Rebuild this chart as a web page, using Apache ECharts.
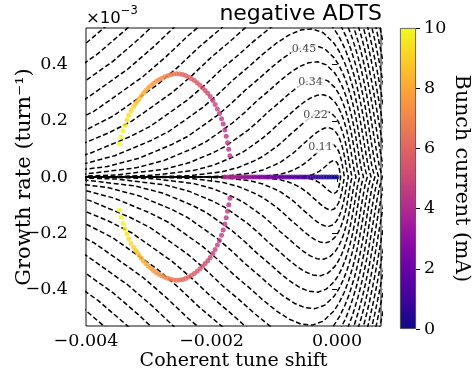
<!DOCTYPE html>
<html><head><meta charset="utf-8">
<script src="https://cdn.jsdelivr.net/npm/echarts@6/dist/echarts.min.js"></script>
<style>html,body{margin:0;padding:0;background:#fff}#c{width:473px;height:376px}</style>
</head><body><div id="c"></div>
<script>
// ---------- data (tune shift and growth rate in units of 1e-3) ----------
// contour levels (every second one is labelled in the figure)
const contourLevels = [0.05625,0.1125,0.16875,0.225,0.28125,0.3375,0.39375,0.45,0.50625,0.5625,0.61875,0.675,0.73125,0.7875,0.84375,0.9,0.95625,1.0125,1.06875];
const contourLabelTexts = ['0.45','0.34','0.22','0.11'];
const contourLabelAnchors = [[-0.527,0.4555],[-0.422,0.3365],[-0.342,0.219],[-0.263,0.1066]];
// shape of the unit stability-diagram contour (upper half), level = 1
const sdShapeX = [1.070,1.0014,0.9447,0.8790,0.7823,0.7021,0.6286,0.5588,0.4908,0.3580,0.2269,0.0633,-0.1005,-0.4347,-0.7800,-1.1396,-1.5167,-1.9142,-2.3337,-2.7756,-3.2528,-3.7311,-4.2329,-4.7722,-5.2933,-5.8711,-7.0010,-8.1363,-10.391,-12.658,-14.830,-19.142,-85.6];
const sdShapeY = [0,0.0541,0.1186,0.2037,0.3315,0.4292,0.5092,0.5770,0.6356,0.7327,0.8097,0.8848,0.9416,1.0131,1.0407,1.0330,0.9977,0.9394,0.8639,0.7757,0.6858,0.5843,0.4877,0.4021,0.3203,0.2544,0.1494,0.0825,0.0219,0.0051,0.0011,0.00004,0];

// coherent modes on the real axis (below threshold)
const axisCurrent = [0,0.1,0.2,0.3,0.4,0.5,0.6,0.7,0.8,0.9,1.0,1.1,1.2,1.3,1.4,1.5,1.6,1.7,1.8,1.9,2.0,2.1,2.2,2.3,2.4,2.5,2.6,2.7,2.8,2.9,3.0,3.1,3.2,3.3,3.4,3.5,3.6,3.7,3.8,3.9,4.0,4.1,4.2];
const axisTune = [0,-0.043,-0.085,-0.128,-0.170,-0.213,-0.255,-0.298,-0.340,-0.383,-0.426,-0.468,-0.511,-0.553,-0.596,-0.638,-0.681,-0.723,-0.766,-0.808,-0.851,-0.894,-0.936,-0.979,-1.021,-1.064,-1.106,-1.149,-1.191,-1.234,-1.277,-1.319,-1.362,-1.404,-1.447,-1.489,-1.532,-1.574,-1.617,-1.659,-1.702,-1.745,-1.787];
const axisGrowth = [0,0,0,0,0,0,0,0,0,0,0,0,0,0,0,0,0,0,0,0,0,0,0,0,0,0,0,0,0,0,0,0,0,0,0,0,0,0,0,0,0,0,0];

// coupled modes above threshold
const arcCurrent = [4.25,4.30,4.35,4.40,4.45,4.50,4.55,4.60,4.65,4.72,4.80,4.95,5.10,5.25,5.40,5.50,5.60,5.70,5.80,5.90,6.00,6.10,6.25,6.40,6.55,6.70,6.85,7.00,7.15,7.30,7.45,7.60,7.75,7.90,8.05,8.20,8.35,8.50,8.65,8.80,9.00,9.20,9.35,9.50,9.65,9.80,9.90,10.00];
const arcTune = [-1.707,-1.726,-1.745,-1.766,-1.788,-1.814,-1.841,-1.874,-1.906,-1.943,-1.978,-2.021,-2.060,-2.102,-2.143,-2.185,-2.229,-2.274,-2.320,-2.366,-2.414,-2.461,-2.509,-2.557,-2.605,-2.652,-2.700,-2.748,-2.794,-2.840,-2.885,-2.928,-2.969,-3.009,-3.047,-3.084,-3.119,-3.150,-3.179,-3.209,-3.241,-3.282,-3.319,-3.349,-3.379,-3.408,-3.442,-3.473];
const arcGrowthUpper = [0.0759,0.0989,0.1218,0.1448,0.1670,0.1882,0.2076,0.2260,0.2419,0.2578,0.2719,0.2860,0.2977,0.3079,0.3174,0.3263,0.3351,0.3429,0.3499,0.3559,0.3609,0.3644,0.3665,0.3672,0.3662,0.3637,0.3605,0.3563,0.3513,0.3457,0.3393,0.3323,0.3245,0.3164,0.3079,0.2987,0.2892,0.2793,0.2694,0.2613,0.2507,0.2366,0.2200,0.2027,0.1843,0.1645,0.1427,0.1176];
const arcGrowthLower = [-0.0759,-0.0989,-0.1218,-0.1448,-0.1670,-0.1882,-0.2076,-0.2260,-0.2419,-0.2578,-0.2719,-0.2860,-0.2977,-0.3079,-0.3174,-0.3263,-0.3351,-0.3429,-0.3499,-0.3559,-0.3609,-0.3644,-0.3665,-0.3672,-0.3662,-0.3637,-0.3605,-0.3563,-0.3513,-0.3457,-0.3393,-0.3323,-0.3245,-0.3164,-0.3079,-0.2987,-0.2892,-0.2793,-0.2694,-0.2613,-0.2507,-0.2366,-0.2200,-0.2027,-0.1843,-0.1645,-0.1427,-0.1176];

const xTicks = [-4,-2,0];
const yTicks = [-0.4,-0.2,0,0.2,0.4];
const cbarTicks = [0,2,4,6,8,10];
const plasma = ['#0d0887','#41049d','#6a00a8','#8f0da4','#b12a90','#cc4778','#e16462','#f2844b','#fca636','#fcce25','#f0f921'];

// ---------- chart ----------
const chart = echarts.init(document.getElementById('c'), null, {renderer:'canvas'});
const minus = s => s.replace('-', '\u2212');
const serif = 'DejaVu Serif';

const series = [];
contourLevels.forEach(c => {
  const pts = [];
  for (let i = sdShapeX.length - 1; i >= 0; i--) pts.push([c * sdShapeX[i], -c * sdShapeY[i]]);
  for (let i = 1; i < sdShapeX.length; i++) pts.push([c * sdShapeX[i], c * sdShapeY[i]]);
  series.push({type:'line', data:pts, showSymbol:false, symbol:'none', silent:true, z:2,
    lineStyle:{color:'#000', width:1.5, type:[5,2.6]}});
});
series.push({type:'scatter', silent:true, z:4, symbolSize:0, itemStyle:{color:'rgba(0,0,0,0)'},
  data: contourLabelAnchors.map((p,i)=>({value:p, name:contourLabelTexts[i]})),
  label:{show:true, position:'inside', formatter:'{b}', fontFamily:serif, fontSize:11, color:'#222',
    backgroundColor:'#fff', padding:[1,1]}});
const scatterIdx = [];
scatterIdx.push(series.length);
series.push({type:'scatter', z:5, symbolSize:5, silent:true,
  data: axisTune.map((x,i)=>[x, axisGrowth[i], axisCurrent[i]])});
scatterIdx.push(series.length);
series.push({type:'scatter', z:5, symbolSize:5, silent:true,
  data: arcTune.map((x,i)=>[x, arcGrowthUpper[i], arcCurrent[i]])});
scatterIdx.push(series.length);
series.push({type:'scatter', z:5, symbolSize:5, silent:true,
  data: arcTune.map((x,i)=>[x, arcGrowthLower[i], arcCurrent[i]])});
series.push({type:'bar', xAxisIndex:1, yAxisIndex:1, data:[10], barWidth:'100%', silent:true,
  itemStyle:{borderColor:'#444', borderWidth:0.8, color:{type:'linear', x:0, y:0, x2:0, y2:1,
    colorStops: plasma.slice().reverse().map((col,i)=>({offset:i/(plasma.length-1), color:col}))}}});

const option = {
  animation:false,
  textStyle:{fontFamily:serif, color:'#000'},
  grid:[
    {left:86, top:28, width:295, height:301, show:true, borderColor:'#111', borderWidth:1, backgroundColor:'transparent'},
    {left:400, top:28, width:16, height:301}
  ],
  xAxis:[
    {type:'value', gridIndex:0, min:-4, max:0.7,
      axisLine:{show:false}, splitLine:{show:false},
      axisTick:{show:true, length:5, customValues:xTicks, lineStyle:{color:'#000', width:1}},
      axisLabel:{customValues:xTicks, formatter:v=>minus((v/1000).toFixed(3)), fontFamily:serif, fontSize:17.5, color:'#000', margin:6},
      name:'Coherent tune shift', nameLocation:'middle', nameGap:26, nameMoveOverlap:false,
      nameTextStyle:{fontFamily:serif, fontSize:19, color:'#000'}},
    {type:'category', gridIndex:1, data:['I'], show:false}
  ],
  yAxis:[
    {type:'value', gridIndex:0, min:-0.53, max:0.53,
      axisLine:{show:false}, splitLine:{show:false},
      axisTick:{show:true, length:5, customValues:yTicks, lineStyle:{color:'#000', width:1}},
      axisLabel:{customValues:yTicks, formatter:v=>minus(v.toFixed(1)), fontFamily:serif, fontSize:17.5, color:'#000', margin:18},
      name:'Growth rate (turn\u207B\u00B9)', nameLocation:'middle', nameGap:51, nameMoveOverlap:false,
      nameTextStyle:{fontFamily:serif, fontSize:21, color:'#000'}},
    {type:'value', gridIndex:1, min:0, max:10, position:'right',
      axisLine:{show:false}, splitLine:{show:false},
      axisTick:{show:true, length:4, customValues:cbarTicks, lineStyle:{color:'#000'}},
      axisLabel:{customValues:cbarTicks, fontFamily:serif, fontSize:17.5, color:'#000', margin:8},
      name:'Bunch current (mA)', nameLocation:'middle', nameRotate:-90, nameGap:35, nameMoveOverlap:false,
      nameTextStyle:{fontFamily:serif, fontSize:20.5, color:'#000'}}
  ],
  visualMap:{show:false, type:'continuous', min:0, max:10, dimension:2, seriesIndex:scatterIdx,
    inRange:{color:plasma}},
  title:{text:'negative ADTS', right:91, top:3, padding:0,
    textStyle:{fontFamily:'DejaVu Sans', fontSize:22, fontWeight:'normal', color:'#000'}},
  graphic:[{type:'text', left:86, top:5, silent:true,
    style:{text:'{a|\u00D710}{b|\u22123}', rich:{
      a:{fontFamily:'DejaVu Sans', fontSize:16.5, color:'#000', lineHeight:22, verticalAlign:'bottom'},
      b:{fontFamily:'DejaVu Sans', fontSize:11.5, color:'#000', verticalAlign:'top'}}}}],
  series: series
};
chart.setOption(option);
</script>
</body></html>
